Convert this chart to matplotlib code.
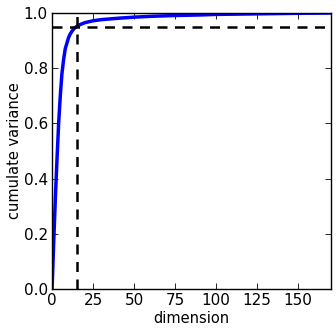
import matplotlib
matplotlib.use("Agg")
import matplotlib.pyplot as plt

# dimensao -> variancia acumulada
dimensao = [0, 1, 2, 3, 4, 5, 6, 7, 8, 9, 10, 11, 12, 13, 14, 15, 17, 20,
            25, 30, 40, 50, 60, 75, 90, 100, 125, 150, 170]
variancia = [0.0, 0.17, 0.33, 0.47, 0.60, 0.70, 0.78, 0.83, 0.87, 0.89, 0.91,
             0.923, 0.933, 0.941, 0.947, 0.951, 0.958, 0.965, 0.972, 0.976,
             0.981, 0.985, 0.988, 0.991, 0.993, 0.995, 0.997, 0.999, 1.0]
limiar = 0.95
dim_corte = 15

plt.rcParams['font.family'] = 'DejaVu Sans'
plt.rcParams['font.size'] = 10

fig = plt.figure(figsize=(3.36, 3.34), dpi=100)
ax = fig.add_axes([0.155, 0.135, 0.83, 0.826])

ax.plot(dimensao, variancia, color='#0000ff', lw=2.5)
ax.axhline(limiar, color='k', ls='--', lw=1.8, dashes=(4, 3))
ax.axvline(dim_corte, color='k', ls='--', lw=1.8, dashes=(4, 3))

ax.set_xlim(0, 170)
ax.set_ylim(0, 1.0)
ax.set_xticks([0, 25, 50, 75, 100, 125, 150])
ax.set_yticks([0.0, 0.2, 0.4, 0.6, 0.8, 1.0])
ax.tick_params(direction='in', top=True, right=True, length=4, width=0.6,
               labelsize=11, pad=3)
for s in ax.spines.values():
    s.set_linewidth(1.0)

ax.set_xlabel('dimension', fontsize=10.5, labelpad=2)
ax.set_ylabel('cumulate variance', fontsize=10.5, labelpad=1)

fig.savefig('out.png', dpi=100)
plt.close(fig)
